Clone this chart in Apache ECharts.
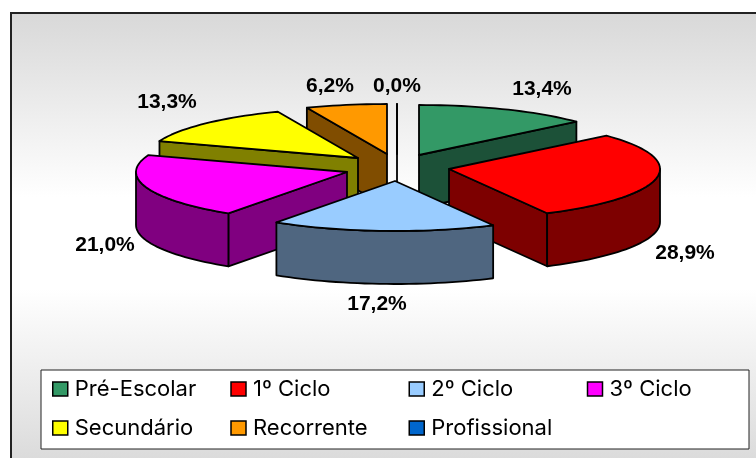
<!DOCTYPE html>
<html>
<head>
<meta charset="utf-8">
<style>html,body{margin:0;padding:0;background:#fff}#chart{width:756px;height:458px}</style>
<script src="https://cdn.jsdelivr.net/npm/echarts@6/dist/echarts.min.js"></script>
</head>
<body>
<div id="chart"></div>
<script>
const categories = ['Pré-Escolar', '1º Ciclo', '2º Ciclo', '3º Ciclo', 'Secundário', 'Recorrente', 'Profissional'];
const shares = [13.4, 28.9, 17.2, 21.0, 13.3, 6.2, 0.0];
const topColors = ['#339966', '#ff0000', '#99ccff', '#ff00ff', '#ffff00', '#ff9900', '#0066cc'];
const wallColors = ['#1c5138', '#7d0000', '#4f6680', '#800080', '#808000', '#804d00', '#003366'];

// apex of every exploded slice on screen, and where its % label sits
const apexes = [[419, 155], [449, 169], [395, 181], [347, 172], [358, 158], [387, 154], [397, 154]];
const labelSpots = [[542, 89], [685, 253], [377, 304], [105, 245], [167, 102], [330, 86], [397, 86]];
// draw order, back slices first
const drawOrder = [0, 5, 6, 4, 1, 3, 2];

const RX = 211, RY = 50, DEPTH = 53;
const total = shares.reduce((a, b) => a + b, 0);

function rad(d) { return d * Math.PI / 180; }

function rimPoint(apex, deg, drop) {
    return [apex[0] + RX * Math.sin(rad(deg)), apex[1] - RY * Math.cos(rad(deg)) + drop];
}

function arcPoints(apex, from, to, drop) {
    let pts = [];
    let steps = Math.max(1, Math.ceil(Math.abs(to - from) / 2));
    for (let i = 0; i <= steps; i++) pts.push(rimPoint(apex, from + (to - from) * i / steps, drop));
    return pts;
}

function face(points, color) {
    return {
        type: 'polygon',
        shape: { points: points },
        style: { fill: color, stroke: '#000', lineWidth: 1.8, lineJoin: 'round' }
    };
}

function renderSlice(params, api) {
    const idx = api.value(0);
    let before = 0;
    for (let i = 0; i < idx; i++) before += shares[i];
    const a0 = before / total * 360;
    const a1 = (before + api.value(1)) / total * 360;
    const apex = apexes[idx];
    const low = [apex[0], apex[1] + DEPTH];
    let kids = [];

    // radial walls that face the viewer
    if (Math.sin(rad(a0)) < -0.001 || a1 === a0) {
        kids.push(face([apex, rimPoint(apex, a0, 0), rimPoint(apex, a0, DEPTH), low], wallColors[idx]));
    }
    if (Math.sin(rad(a1)) > 0.001) {
        kids.push(face([apex, rimPoint(apex, a1, 0), rimPoint(apex, a1, DEPTH), low], wallColors[idx]));
    }
    // outer wall, front half only
    const w0 = Math.max(a0, 90), w1 = Math.min(a1, 270);
    if (w1 > w0) {
        kids.push(face(arcPoints(apex, w0, w1, 0).concat(arcPoints(apex, w1, w0, DEPTH)), wallColors[idx]));
    }
    kids.push(face([apex].concat(arcPoints(apex, a0, a1, 0)), topColors[idx]));
    kids.push({
        type: 'text',
        z2: 10,
        style: {
            x: labelSpots[idx][0], y: labelSpots[idx][1],
            text: api.value(1).toFixed(1).replace('.', ',') + '%',
            align: 'center', verticalAlign: 'middle',
            fill: '#000', font: 'bold 21px "Liberation Sans", Arial, sans-serif'
        }
    });
    return { type: 'group', children: kids };
}

const chart = echarts.init(document.getElementById('chart'), null, { renderer: 'canvas' });

chart.setOption({
    animation: false,
    backgroundColor: '#fff',
    graphic: [{
        type: 'rect',
        z: -10,
        shape: { x: 11, y: 13, width: 760, height: 460 },
        style: {
            stroke: '#222', lineWidth: 2,
            fill: new echarts.graphic.LinearGradient(0, 0, 0, 1, [
                { offset: 0, color: '#d8d8d8' },
                { offset: 0.4, color: '#ffffff' },
                { offset: 0.6, color: '#ffffff' },
                { offset: 1, color: '#d8d8d8' }
            ], false)
        }
    }],
    legend: {
        left: 41, top: 370,
        width: 730,
        orient: 'horizontal',
        data: categories,
        icon: 'rect',
        itemWidth: 15, itemHeight: 14,
        itemGap: 17,
        padding: [8, 1, 10, 11],
        backgroundColor: '#fff',
        borderColor: '#222', borderWidth: 1,
        itemStyle: { borderColor: '#000', borderWidth: 1.5 },
        selectedMode: false,
        formatter: name => `{p|}{a|${name}}`,
        textStyle: {
            rich: {
                p: { width: 2 },
                a: { fontFamily: 'Inter', fontSize: 22, color: '#000', width: 138.5, height: 16, lineHeight: 16 }
            }
        }
    },
    series: drawOrder.map(i => ({
        type: 'custom',
        name: categories[i],
        coordinateSystem: 'none',
        itemStyle: { color: topColors[i] },
        z: 2,
        silent: true,
        renderItem: renderSlice,
        data: [[i, shares[i]]]
    }))
});
</script>
</body>
</html>
